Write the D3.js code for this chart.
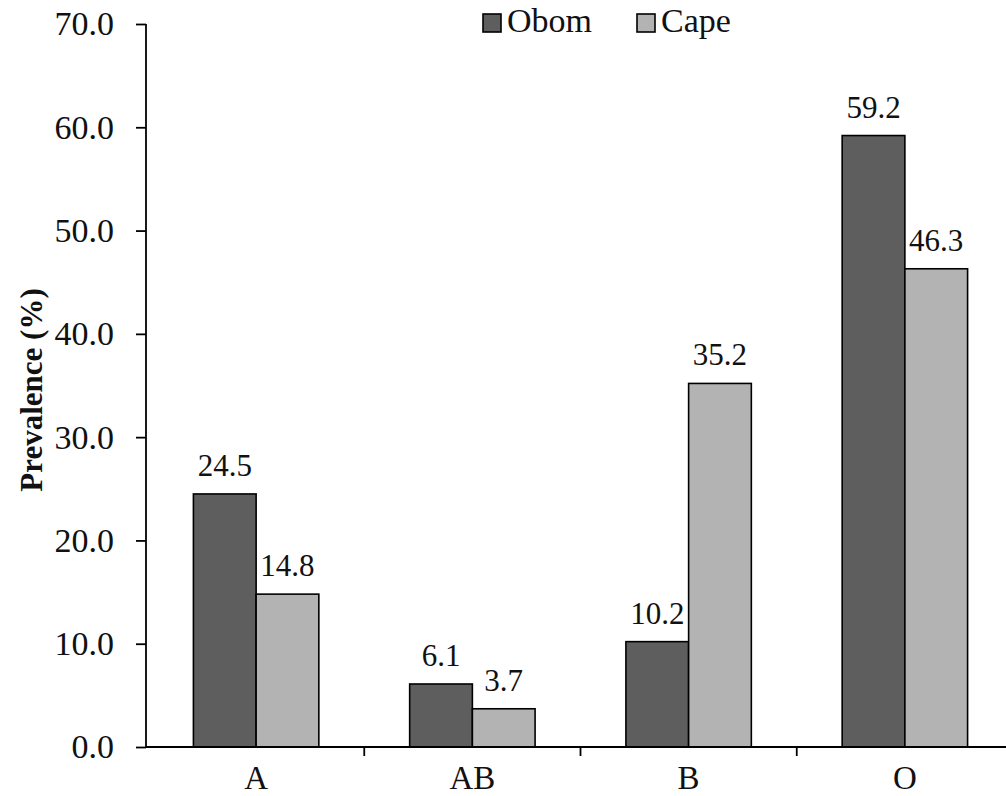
<!DOCTYPE html>
<html>
<head>
<meta charset="utf-8">
<script src="https://cdn.jsdelivr.net/npm/d3@7"></script>
<style>
  html, body { margin: 0; padding: 0; background: #fff; }
  svg { display: block; }
  svg text { font-family: "Liberation Serif", "Tinos", "Times New Roman", "Nimbus Roman", "DejaVu Serif", serif !important; }
</style>
</head>
<body>
<svg id="chart" width="1006" height="796"></svg>
<script>
// Blood group prevalence by population
const categories = ["A", "AB", "B", "O"];
const seriesNames = ["Obom", "Cape"];
const obomValues = [24.5, 6.1, 10.2, 59.2];
const capeValues = [14.8, 3.7, 35.2, 46.3];
const yTicks = [0, 10, 20, 30, 40, 50, 60, 70];

const colors = { Obom: "#5e5e5e", Cape: "#b3b3b3" };

const svg = d3.select("#chart");
const plotLeft = 146, plotRight = 1013, plotTop = 24, plotBottom = 747;

const y = d3.scaleLinear().domain([0, 70]).range([plotBottom, plotTop]);
const x = d3.scaleBand().domain(categories).range([148, plotRight])
  .paddingInner(0.42).paddingOuter(0.21);
const xs = d3.scaleBand().domain(seriesNames).range([0, x.bandwidth()]);

const rows = categories.map((c, i) => ({
  cat: c,
  vals: [
    { key: "Obom", value: obomValues[i] },
    { key: "Cape", value: capeValues[i] }
  ]
}));

// Bars
const groups = svg.append("g").selectAll("g").data(rows).join("g")
  .attr("transform", d => `translate(${x(d.cat)},0)`);

groups.selectAll("rect").data(d => d.vals).join("rect")
  .attr("x", d => xs(d.key))
  .attr("y", d => y(d.value))
  .attr("width", xs.bandwidth())
  .attr("height", d => y(0) - y(d.value))
  .attr("fill", d => colors[d.key])
  .attr("stroke", "#000")
  .attr("stroke-width", 1.6);

// Value labels
groups.selectAll("text").data(d => d.vals).join("text")
  .attr("x", d => xs(d.key) + xs.bandwidth() / 2)
  .attr("y", d => y(d.value) - 18)
  .attr("text-anchor", "middle")
  .attr("font-size", 31)
  .attr("fill", "#111")
  .text(d => d.value.toFixed(1));

// Y axis
const yAxis = svg.append("g")
  .attr("transform", `translate(${plotLeft},0)`)
  .call(d3.axisLeft(y).tickValues(yTicks).tickFormat(d3.format(".1f"))
    .tickSize(10).tickPadding(22));
yAxis.attr("font-family", null);
yAxis.select(".domain").attr("stroke", "#000").attr("stroke-width", 1.8)
  .attr("d", `M0,${plotTop}H0V${plotBottom}`);
yAxis.selectAll(".tick line").attr("stroke", "#000").attr("stroke-width", 1.8);
yAxis.selectAll(".tick text").attr("font-size", 34).attr("fill", "#111");

// X axis: baseline with ticks between categories
svg.append("line")
  .attr("x1", plotLeft).attr("x2", 1006)
  .attr("y1", plotBottom).attr("y2", plotBottom)
  .attr("stroke", "#000").attr("stroke-width", 1.8);

const boundaries = categories.slice(1).map(c => x(c) - x.step() * x.paddingInner() / 2);
svg.append("g").selectAll("line").data(boundaries).join("line")
  .attr("x1", d => d).attr("x2", d => d)
  .attr("y1", plotBottom).attr("y2", plotBottom + 9)
  .attr("stroke", "#000").attr("stroke-width", 1.8);

svg.append("g").selectAll("text").data(categories).join("text")
  .attr("x", d => x(d) + x.bandwidth() / 2)
  .attr("y", 789)
  .attr("text-anchor", "middle")
  .attr("font-size", 33)
  .attr("fill", "#111")
  .text(d => d);

// Y axis title
svg.append("text")
  .attr("transform", "translate(42,390) rotate(-90)")
  .attr("text-anchor", "middle")
  .attr("font-size", 31)
  .attr("font-weight", "bold")
  .attr("fill", "#111")
  .text("Prevalence (%)");

// Legend
const legendItems = [
  { key: "Obom", x: 483 },
  { key: "Cape", x: 637 }
];
const legend = svg.append("g").selectAll("g").data(legendItems).join("g")
  .attr("transform", d => `translate(${d.x},14)`);
legend.append("rect")
  .attr("width", 18).attr("height", 18)
  .attr("fill", d => colors[d.key])
  .attr("stroke", "#000").attr("stroke-width", 1.6);
legend.append("text")
  .attr("x", 24).attr("y", 18)
  .attr("font-size", 34)
  .attr("fill", "#111")
  .text(d => d.key);
</script>
</body>
</html>
